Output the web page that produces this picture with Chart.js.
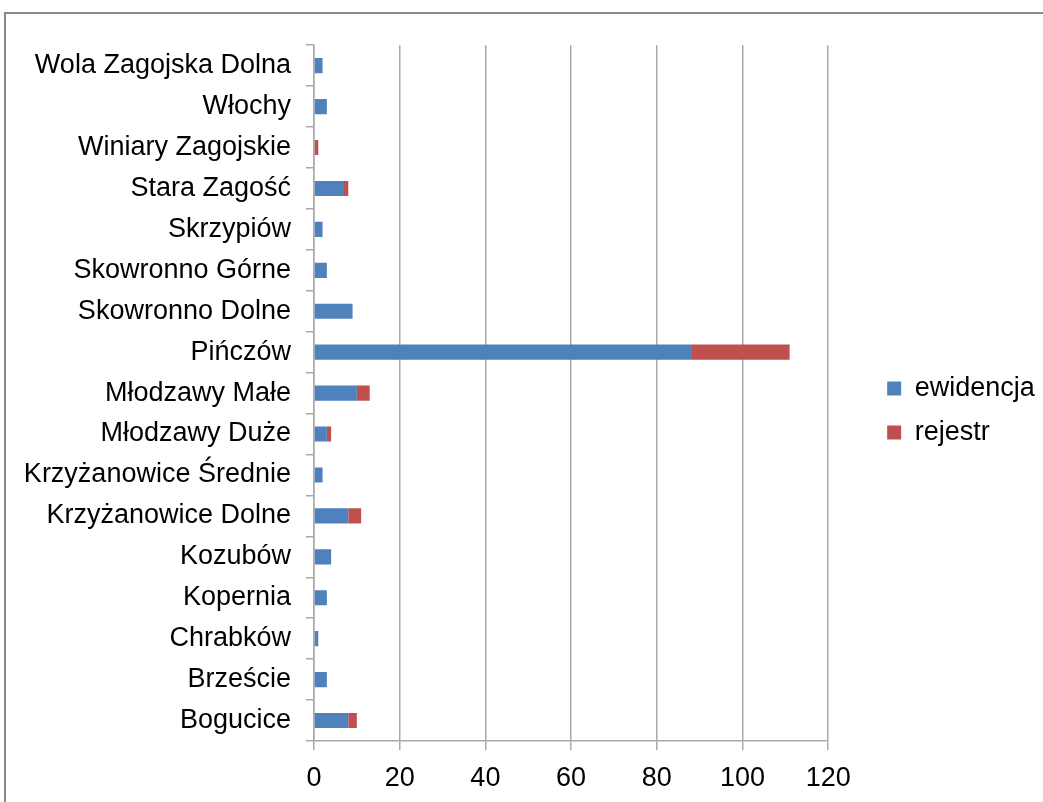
<!DOCTYPE html>
<html>
<head>
<meta charset="utf-8">
<script src="https://cdn.jsdelivr.net/npm/chart.js@4"></script>
<style>
  html, body { margin: 0; padding: 0; background: #fff; overflow: hidden; }
  #frame {
    position: absolute; left: 4px; top: 12px; width: 1100px; height: 900px;
    border-top: 2px solid #8a8a8a; border-left: 2px solid #8a8a8a;
  }
  #wrap { position: absolute; left: 6px; top: 14px; width: 1037px; height: 788px; }
</style>
</head>
<body>
<div id="frame"></div>
<div id="wrap"><canvas id="chart"></canvas></div>
<script>
// villages, top to bottom as in the picture
const villages = [
    'Wola Zagojska Dolna', 'Włochy', 'Winiary Zagojskie', 'Stara Zagość',
    'Skrzypiów', 'Skowronno Górne', 'Skowronno Dolne', 'Pińczów',
    'Młodzawy Małe', 'Młodzawy Duże', 'Krzyżanowice Średnie', 'Krzyżanowice Dolne',
    'Kozubów', 'Kopernia', 'Chrabków', 'Brzeście', 'Bogucice'
];
const ewidencja = [2, 3, 0, 7, 2, 3, 9, 88, 10, 3, 2, 8, 4, 3, 1, 3, 8];
const rejestr = [0, 0, 1, 1, 0, 0, 0, 23, 3, 1, 0, 3, 0, 0, 0, 0, 2];
const xTicks = [0, 20, 40, 60, 80, 100, 120];

const gridGray = '#a9a9a9';
Chart.defaults.font.family = "'Liberation Sans', Arial, sans-serif";
Chart.defaults.font.size = 27;
Chart.defaults.color = '#000';

new Chart(document.getElementById('chart'), {
    type: 'bar',
    data: {
        labels: villages,
        datasets: [
            { label: 'ewidencja', data: ewidencja, backgroundColor: '#4F81BD' },
            { label: 'rejestr', data: rejestr, backgroundColor: '#C0504D' }
        ]
    },
    options: {
        indexAxis: 'y',
        responsive: true,
        maintainAspectRatio: false,
        animation: false,
        categoryPercentage: 1,
        barPercentage: 0.37,
        layout: { padding: { top: 28, bottom: 0, left: 0, right: 0 } },
        scales: {
            x: {
                stacked: true,
                min: xTicks[0],
                max: xTicks[xTicks.length - 1],
                afterBuildTicks: s => { s.ticks = xTicks.map(v => ({ value: v })); },
                afterFit: s => { s.height = 61; },
                grid: { color: gridGray, lineWidth: 1.5, tickLength: 9 },
                border: { color: gridGray, width: 1.5 },
                ticks: { padding: 12 }
            },
            y: {
                stacked: true,
                afterFit: s => { s.width = 308; },
                grid: { drawOnChartArea: false, color: gridGray, lineWidth: 1.5, tickLength: 8 },
                border: { color: gridGray, width: 1.5 },
                ticks: { padding: 15, autoSkip: false }
            },
            // empty spacer between plot and legend
            gap: {
                type: 'linear',
                position: 'right',
                afterFit: s => { s.width = 42; },
                grid: { display: false },
                border: { display: false },
                ticks: { display: false }
            }
        },
        plugins: {
            legend: {
                position: 'right',
                align: 'start',
                // empty title only pushes the items down
                title: { display: true, text: '', font: { size: 10 }, padding: { top: 304, bottom: 0 } },
                labels: { boxWidth: 14, boxHeight: 14, padding: 17 }
            },
            tooltip: { enabled: false }
        }
    }
});
</script>
</body>
</html>
